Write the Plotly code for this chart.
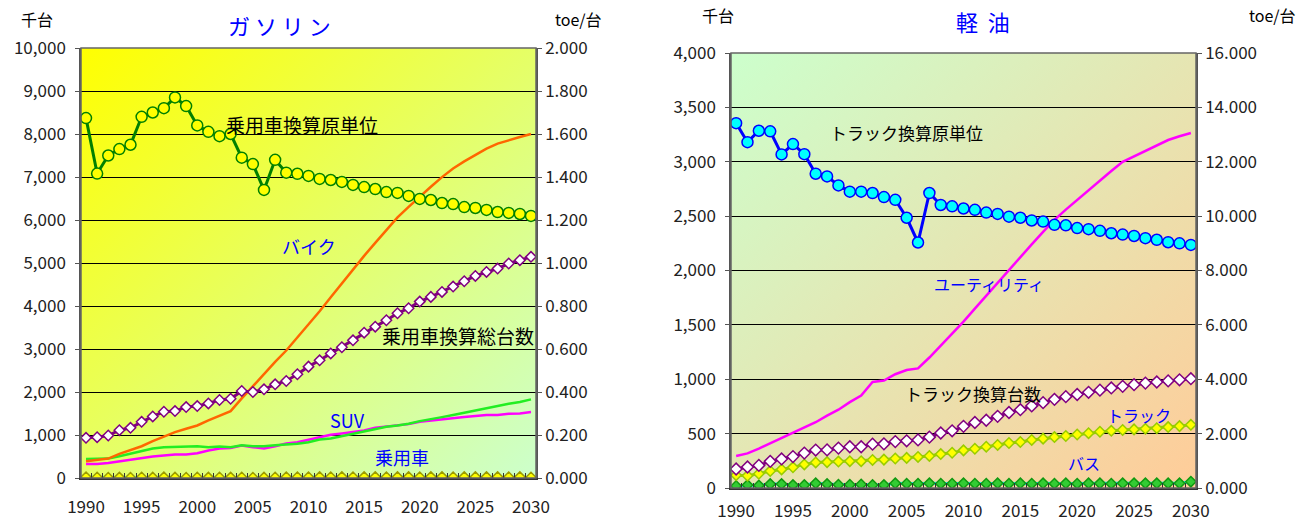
import base64
import plotly.graph_objects as go

W, H = 1311, 524
FONT = "Noto Sans CJK JP"

years = list(range(1990, 2031))

# ---- ガソリン (千台 / toe per 台) ----
gas_unit = [1.674, 1.416, 1.50, 1.53, 1.55, 1.68, 1.70, 1.72, 1.77, 1.73,
            1.64, 1.61, 1.59, 1.60, 1.49, 1.46, 1.34, 1.48, 1.42, 1.415,
            1.405, 1.391, 1.386, 1.377, 1.363, 1.353, 1.344, 1.330, 1.326, 1.312,
            1.298, 1.293, 1.279, 1.274, 1.260, 1.256, 1.247, 1.237, 1.233, 1.228,
            1.219]
gas_bike = [389, 412, 451, 560, 646, 739, 856, 965, 1066, 1144,
            1221, 1338, 1455, 1556, 1850, 2140, 2430, 2700, 2965, 3264,
            3575, 3877, 4203, 4530, 4856, 5166, 5469, 5772, 6059, 6307,
            6548, 6773, 6998, 7200, 7363, 7519, 7658, 7775, 7860, 7930,
            8000]
gas_total = [934, 949, 988, 1112, 1167, 1307, 1432, 1540, 1556, 1649,
             1673, 1735, 1813, 1844, 2023, 2000, 2062, 2178, 2256, 2412,
             2590, 2737, 2897, 3040, 3202, 3380, 3520, 3668, 3831, 3947,
             4102, 4212, 4328, 4452, 4576, 4700, 4793, 4871, 4988, 5065,
             5143]
gas_car = [443, 443, 451, 506, 560, 622, 685, 716, 723, 739,
           739, 716, 731, 716, 762, 739, 739, 762, 778, 794,
           832, 895, 918, 972, 1027, 1074, 1128, 1190, 1221, 1260,
           1323, 1377, 1416, 1463, 1517, 1556, 1610, 1673, 1727, 1766,
           1828]
gas_suv = [327, 327, 350, 389, 428, 467, 498, 521, 545, 545,
           576, 638, 685, 700, 755, 716, 685, 739, 801, 832,
           887, 949, 1004, 1035, 1074, 1105, 1167, 1198, 1221, 1253,
           1307, 1338, 1362, 1385, 1416, 1439, 1463, 1463, 1494, 1502,
           1533]
gas_bus = [20, 12, 6, 10, 8, 14, 10, 16, 10, 8,
           12, 10, 14, 10, 12, 8, 10, 14, 20, 18,
           20, 22, 20, 22, 20, 22, 22, 20, 22, 22,
           20, 22, 22, 20, 22, 22, 22, 22, 20, 22,
           12]

# ---- 軽油 (千台 / toe per 台) ----
diesel_unit = [13.42, 12.72, 13.14, 13.12, 12.27, 12.65, 12.28, 11.56, 11.46, 11.13,
               10.90, 10.90, 10.85, 10.70, 10.60, 9.94, 9.03, 10.85, 10.41, 10.36,
               10.28, 10.23, 10.13, 10.08, 9.98, 9.94, 9.84, 9.80, 9.68, 9.66,
               9.56, 9.52, 9.46, 9.37, 9.32, 9.27, 9.19, 9.13, 9.04, 9.00,
               8.94]
diesel_utility = [295, 318, 362, 410, 457, 505, 555, 605, 665, 720,
                  790, 850, 975, 988, 1046, 1085, 1100, 1200, 1310, 1420,
                  1530, 1650, 1770, 1885, 2000, 2120, 2240, 2355, 2465, 2560,
                  2650, 2740, 2830, 2915, 3000, 3050, 3095, 3150, 3200, 3235,
                  3265]
diesel_total = [175, 193, 208, 245, 267, 289, 321, 349, 350, 367,
                379, 379, 403, 406, 427, 434, 442, 468, 506, 526,
                567, 602, 623, 659, 694, 720, 755, 785, 815, 840,
                860, 880, 900, 920, 935, 950, 965, 975, 985, 995,
                1005]
diesel_truck = [118, 113, 131, 156, 171, 190, 217, 235, 238, 243,
                247, 247, 258, 261, 271, 277, 286, 295, 312, 324,
                346, 361, 380, 396, 414, 423, 442, 454, 468, 478,
                492, 504, 517, 526, 533, 539, 544, 550, 560, 569,
                581]
diesel_bus = [18, 27, 24, 36, 36, 27, 27, 43, 36, 30,
              30, 33, 27, 27, 43, 40, 40, 43, 40, 40,
              43, 40, 40, 43, 40, 43, 40, 43, 40, 43,
              40, 43, 43, 40, 43, 43, 43, 43, 43, 43,
              58]

x_ticks = [1990, 1995, 2000, 2005, 2010, 2015, 2020, 2025, 2030]


def px(x):
    return x / W


def py(y):
    return 1 - y / H


# plot-area rectangles in pixels: (left, top, right, bottom)
L_BOX = (81, 48, 536, 478)
R_BOX = (731, 53, 1196, 488)


def gradient_uri(c0, c1):
    svg = (
        "<svg xmlns='http://www.w3.org/2000/svg' viewBox='0 0 100 100' "
        "width='100' height='100' preserveAspectRatio='none'>"
        "<defs><linearGradient id='g' x1='0' y1='0' x2='1' y2='1'>"
        f"<stop offset='0' stop-color='{c0}'/><stop offset='1' stop-color='{c1}'/>"
        "</linearGradient></defs>"
        "<rect width='100' height='100' fill='url(#g)'/></svg>"
    )
    return "data:image/svg+xml;base64," + base64.b64encode(svg.encode()).decode()


fig = go.Figure()


def line(y, xa, ya, color, width=2.5):
    fig.add_trace(go.Scatter(x=years, y=y, xaxis=xa, yaxis=ya, mode="lines",
                             line=dict(color=color, width=width), hoverinfo="skip"))


def marked(y, xa, ya, color, width, symbol, size, fill, edge):
    fig.add_trace(go.Scatter(x=years, y=y, xaxis=xa, yaxis=ya, mode="lines+markers",
                             line=dict(color=color, width=width),
                             marker=dict(symbol=symbol, size=size, color=fill,
                                         line=dict(color=edge, width=1.5)),
                             hoverinfo="skip"))


# gasoline panel
marked(gas_bus, "x", "y", "#00FFFF", 3, "diamond", 8, "#FFFF00", "#9C9C00")
line(gas_suv, "x", "y", "#FF00FF")
line(gas_car, "x", "y", "#22EE22")
line(gas_bike, "x", "y", "#FF6600")
marked(gas_total, "x", "y", "#800080", 3, "diamond", 8, "#FFFFFF", "#800080")
marked(gas_unit, "x", "y2", "#008000", 3, "circle", 11, "#FFFF00", "#008000")

# diesel panel
marked(diesel_bus, "x2", "y3", "#00FFFF", 3, "diamond", 8, "#33CC33", "#119911")
marked(diesel_truck, "x2", "y3", "#99CC00", 3, "diamond", 8, "#FFFF00", "#99CC00")
marked(diesel_total, "x2", "y3", "#800080", 3, "diamond", 9, "#FFFFFF", "#800080")
line(diesel_utility, "x2", "y3", "#FF00FF")
marked(diesel_unit, "x2", "y4", "#0000FF", 3, "circle", 11, "#00FFFF", "#0000FF")

tick_font = dict(family=FONT, size=17, color="#222222")


def xaxis_cfg(box, anchor, standoff):
    return dict(
        domain=[px(box[0]), px(box[2])], range=[1989.55, 2030.45], anchor=anchor,
        tickvals=x_ticks, ticks="", showgrid=False, zeroline=False,
        showline=True, linecolor="#333333", linewidth=1.5, automargin=False,
        tickfont=tick_font, ticklabelstandoff=standoff,
        minor=dict(tick0=1989.5, dtick=1, ticks="inside", ticklen=5,
                   tickcolor="#333333", showgrid=False),
    )


def yaxis_cfg(box, rng, dtick, anchor):
    return dict(
        domain=[py(box[3]), py(box[1])], range=rng, dtick=dtick, tickformat=",",
        showgrid=True, gridcolor="#000000", gridwidth=1, zeroline=False,
        showline=True, linecolor="#555555", linewidth=1.5, automargin=False,
        ticks="outside", ticklen=4, tickcolor="#555555", ticklabelstandoff=6,
        tickfont=tick_font, anchor=anchor,
    )


def y2_cfg(rng, dtick, overlay, anchor):
    return dict(
        overlaying=overlay, side="right", range=rng, dtick=dtick, tickformat=".3f",
        showgrid=False, zeroline=False, showline=True, linecolor="#555555",
        linewidth=1.5, ticks="outside", ticklen=4, tickcolor="#555555",
        automargin=False, tickfont=tick_font, anchor=anchor,
    )


annotations = []


def text(s, x, y, size=18, color="#000000"):
    annotations.append(dict(text=s, x=px(x), y=py(y), xref="paper", yref="paper",
                            showarrow=False, xanchor="center", yanchor="middle",
                            font=dict(family=FONT, size=size, color=color)))


BLUE = "#0000FF"
# gasoline panel texts
text("千台", 37, 19, 16)
text("toe/台", 578, 19, 16)
text("ガ ソ リ ン", 279, 25, 22, BLUE)
text("乗用車換算原単位", 302, 124, 19)
text("バイク", 309, 246, 18, BLUE)
text("乗用車換算総台数", 458, 335, 19)
text("SUV", 347, 420, 18, BLUE)
text("乗用車", 402, 457, 18, BLUE)
# diesel panel texts
text("千台", 718, 15, 16)
text("toe/台", 1272, 15, 16)
text("軽  油", 983, 21, 22, BLUE)
text("トラック換算原単位", 906, 132, 17)
text("ユーティリティ", 989, 284, 16, BLUE)
text("トラック換算台数", 973, 393, 17)
text("トラック", 1139, 415, 16, BLUE)
text("バス", 1084, 463, 16, BLUE)

images = [
    dict(source=gradient_uri("#FFFF00", "#CCFFCC"), xref="paper", yref="paper",
         x=px(L_BOX[0]), y=py(L_BOX[1]), sizex=px(L_BOX[2] - L_BOX[0]),
         sizey=(L_BOX[3] - L_BOX[1]) / H, sizing="stretch", layer="below",
         xanchor="left", yanchor="top"),
    dict(source=gradient_uri("#CCFFCC", "#FFCC99"), xref="paper", yref="paper",
         x=px(R_BOX[0]), y=py(R_BOX[1]), sizex=px(R_BOX[2] - R_BOX[0]),
         sizey=(R_BOX[3] - R_BOX[1]) / H, sizing="stretch", layer="below",
         xanchor="left", yanchor="top"),
]

shapes = [
    dict(type="rect", xref="x domain", yref="y domain", x0=0, x1=1, y0=0, y1=1,
         line=dict(color="#666666", width=1.5), layer="above"),
    dict(type="rect", xref="x2 domain", yref="y3 domain", x0=0, x1=1, y0=0, y1=1,
         line=dict(color="#666666", width=1.5), layer="above"),
]

fig.update_layout(
    width=W, height=H, margin=dict(l=0, r=0, t=0, b=0, pad=0), autosize=False,
    paper_bgcolor="#FFFFFF", plot_bgcolor="rgba(0,0,0,0)", showlegend=False,
    xaxis=xaxis_cfg(L_BOX, "y", 13),
    yaxis=yaxis_cfg(L_BOX, [0, 10000], 1000, "x"),
    yaxis2=y2_cfg([0, 2], 0.2, "y", "x"),
    xaxis2=xaxis_cfg(R_BOX, "y3", 7),
    yaxis3=yaxis_cfg(R_BOX, [0, 4000], 500, "x2"),
    yaxis4=y2_cfg([0, 16], 2, "y3", "x2"),
    annotations=annotations, images=images, shapes=shapes,
)

fig.write_html("out.html")
